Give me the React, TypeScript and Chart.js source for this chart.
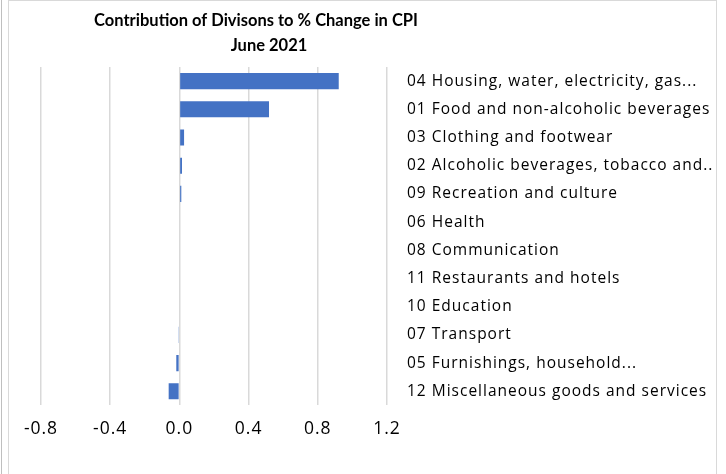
import React, { useEffect, useRef } from "react";
import { Chart, registerables } from "chart.js";

Chart.register(...registerables);

const categories = [
  "04 Housing, water, electricity, gas...",
  "01 Food and non-alcoholic beverages",
  "03 Clothing and footwear",
  "02 Alcoholic beverages, tobacco and..",
  "09 Recreation and culture",
  "06 Health",
  "08 Communication",
  "11 Restaurants and hotels",
  "10 Education",
  "07 Transport",
  "05 Furnishings, household...",
  "12 Miscellaneous goods and services",
];

const contributions = [0.921, 0.518, 0.027, 0.015, 0.011, 0, 0, 0, 0, -0.003, -0.018, -0.062];

const titleLines = ["Contribution of Divisons to % Change in CPI", "June 2021"];

const FONT = "'Open Sans', sans-serif";
const TITLE_FONT = "Lato, sans-serif";

const spacingPlugin = {
  id: "letterSpacing",
  beforeDraw(chart: any) {
    chart.ctx.letterSpacing = "1px";
  },
};

const titlePlugin = {
  id: "customTitle",
  afterDraw(chart: any) {
    const ctx = chart.ctx;
    ctx.save();
    ctx.letterSpacing = "0px";
    ctx.fillStyle = "#000";
    ctx.font = `bold 16.5px ${TITLE_FONT}`;
    ctx.textAlign = "center";
    ctx.textBaseline = "middle";
    ctx.fillText(titleLines[0], 256, 21);
    ctx.fillText(titleLines[1], 269, 46);
    ctx.restore();
  },
};

export default function App() {
  const ref = useRef<HTMLCanvasElement>(null);
  useEffect(() => {
    if (!ref.current) return;
    const chart = new Chart(ref.current, {
      type: "bar",
      data: {
        labels: categories,
        datasets: [
          {
            data: contributions,
            backgroundColor: "#4472C4",
            borderWidth: 0,
            barPercentage: 0.57,
            categoryPercentage: 1,
          },
        ],
      },
      options: {
        indexAxis: "y",
        animation: false,
        responsive: false,
        maintainAspectRatio: false,
        layout: { padding: { left: 41, top: 67, right: 0, bottom: 0 } },
        plugins: {
          legend: { display: false },
          title: { display: false },
          tooltip: { enabled: false },
        },
        scales: {
          x: {
            min: -0.8,
            max: 1.2,
            ticks: {
              stepSize: 0.4,
              padding: 13,
              color: "#000",
              font: { family: FONT, size: 17.5 },
              callback: (v: any) => Number(v).toFixed(1),
            },
            grid: { color: "#d9d9d9", lineWidth: 1.5, drawTicks: false },
            border: { display: false },
            afterFit: (s: any) => {
              s.height = 68.6;
            },
          },
          y: {
            position: "right",
            ticks: {
              padding: 20,
              color: "#000",
              font: { family: FONT, size: 15.5 },
              autoSkip: false,
            },
            grid: { display: false, drawTicks: false },
            border: { display: false },
            afterFit: (s: any) => {
              s.width = 339;
            },
          },
        },
      },
      plugins: [spacingPlugin, titlePlugin],
    });
    return () => chart.destroy();
  }, []);

  return (
    <div style={{ position: "fixed", left: 0, top: 0, width: 726, height: 474, background: "#fff" }}>
      <div style={{ position: "absolute", left: 1, top: 0, width: 1, height: 474, background: "#bfbfbf" }} />
      <div
        style={{
          position: "absolute",
          left: 8,
          top: 0,
          width: 709,
          height: 480,
          borderLeft: "1px solid #d9d9d9",
          borderTop: "1px solid #d9d9d9",
          borderRight: "1px solid #d9d9d9",
          boxSizing: "border-box",
        }}
      />
      <canvas ref={ref} width={726} height={474} style={{ position: "absolute", left: 0, top: 0 }} />
    </div>
  );
}
